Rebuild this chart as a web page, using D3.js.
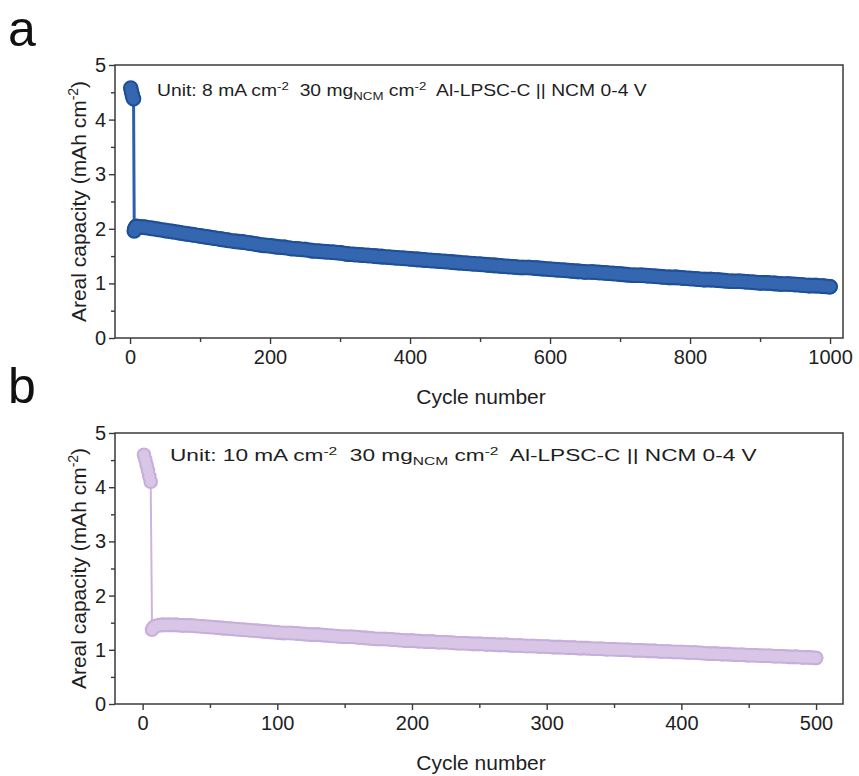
<!DOCTYPE html>
<html>
<head>
<meta charset="utf-8">
<script src="https://cdn.jsdelivr.net/npm/d3@7"></script>
<style>
  html, body { margin: 0; padding: 0; background: #fff; }
  svg { display: block; font-family: "Liberation Sans", Arial, sans-serif; }
  text { white-space: pre; }
</style>
</head>
<body>
<svg id="chart" width="859" height="776"></svg>
<script>
// ---- Panel a: 8 mA cm-2, 1000 cycles ----
const cyclesA = [1, 2, 3, 4, 5, 6, 7, 8, 9].concat(d3.range(10, 1001, 10));
const capacityA = [
  4.58, 4.52, 4.46, 4.41, 4.38, 1.96, 2.00, 2.03, 2.04,
  2.04, 2.03, 2.01, 1.99, 1.97, 1.95, 1.93, 1.91, 1.89, 1.87,
  1.85, 1.83, 1.81, 1.79, 1.77, 1.76, 1.74, 1.72, 1.70, 1.69,
  1.67, 1.66, 1.64, 1.63, 1.62, 1.60, 1.59, 1.58, 1.57, 1.56,
  1.54, 1.53, 1.52, 1.51, 1.50, 1.49, 1.48, 1.47, 1.46, 1.45,
  1.44, 1.43, 1.42, 1.41, 1.40, 1.39, 1.38, 1.37, 1.36, 1.35,
  1.34, 1.33, 1.32, 1.31, 1.30, 1.29, 1.29, 1.28, 1.27, 1.26,
  1.25, 1.24, 1.23, 1.22, 1.21, 1.21, 1.20, 1.19, 1.18, 1.17,
  1.16, 1.15, 1.15, 1.14, 1.13, 1.12, 1.11, 1.11, 1.10, 1.09,
  1.08, 1.07, 1.07, 1.06, 1.05, 1.04, 1.04, 1.03, 1.02, 1.01,
  1.01, 1.00, 0.99, 0.99, 0.98, 0.97, 0.96, 0.96, 0.95, 0.94
];
const xTicksA = [0, 200, 400, 600, 800, 1000];

// ---- Panel b: 10 mA cm-2, 500 cycles ----
const cyclesB = [1, 2, 3, 4, 5, 6, 7, 8, 9].concat(d3.range(10, 501, 5));
const capacityB = [
  4.60, 4.51, 4.41, 4.31, 4.20, 4.10, 1.37, 1.41, 1.43,
  1.44, 1.46, 1.46, 1.46, 1.45, 1.45, 1.44, 1.43, 1.42, 1.41, 1.40, 1.39, 1.38, 1.37, 1.36, 1.35, 1.34, 1.33, 1.32,
  1.31, 1.31, 1.30, 1.29, 1.28, 1.28, 1.27, 1.26, 1.25, 1.24,
  1.24, 1.23, 1.22, 1.21, 1.20, 1.20, 1.19, 1.18, 1.17, 1.17,
  1.16, 1.15, 1.15, 1.14, 1.14, 1.13, 1.12, 1.12, 1.11, 1.11,
  1.10, 1.10, 1.09, 1.09, 1.08, 1.08, 1.07, 1.07, 1.06, 1.06,
  1.05, 1.05, 1.04, 1.04, 1.03, 1.03, 1.02, 1.02, 1.01, 1.01,
  1.00, 1.00, 0.99, 0.99, 0.98, 0.98, 0.97, 0.97, 0.96, 0.96,
  0.95, 0.95, 0.94, 0.93, 0.93, 0.92, 0.92, 0.91, 0.91, 0.90,
  0.90, 0.89, 0.89, 0.88, 0.88, 0.87, 0.87, 0.86, 0.86, 0.85
];
const xTicksB = [0, 100, 200, 300, 400, 500];

const yTicks = [0, 1, 2, 3, 4, 5];

const svg = d3.select("#chart");
const axisColor = "#3a3a3a";
const textColor = "#1e1e1e";
const intFmt = d3.format("d");

function drawPanel(opt) {
  const x = d3.scaleLinear().domain(opt.xDomain).range([opt.left, opt.right]);
  const y = d3.scaleLinear().domain([0, 5]).range([opt.bottom, opt.top]);
  const g = svg.append("g");

  // frame
  g.append("rect")
    .attr("x", opt.left).attr("y", opt.top)
    .attr("width", opt.right - opt.left).attr("height", opt.bottom - opt.top)
    .attr("fill", "none").attr("stroke", axisColor).attr("stroke-width", 1.5);

  // minor ticks
  const yMinor = d3.range(0.5, 5, 1);
  const xAxisMinor = d3.axisBottom(x).tickValues(opt.xMinor).tickSize(4).tickFormat("");
  const yAxisMinor = d3.axisLeft(y).tickValues(yMinor).tickSize(4).tickFormat("");
  g.append("g").attr("transform", `translate(0,${opt.bottom})`).call(xAxisMinor)
    .call(s => s.select(".domain").remove());
  g.append("g").attr("transform", `translate(${opt.left},0)`).call(yAxisMinor)
    .call(s => s.select(".domain").remove());

  // major axes
  const xAxis = d3.axisBottom(x).tickValues(opt.xTicks).tickFormat(intFmt).tickSize(6).tickPadding(6);
  const yAxis = d3.axisLeft(y).tickValues(yTicks).tickFormat(intFmt).tickSize(6).tickPadding(3);
  const gx = g.append("g").attr("transform", `translate(0,${opt.bottom})`).call(xAxis);
  const gy = g.append("g").attr("transform", `translate(${opt.left},0)`).call(yAxis);
  [gx, gy].forEach(s => {
    s.select(".domain").remove();
    s.selectAll("text").attr("font-size", 20).attr("fill", textColor)
      .attr("font-family", "Liberation Sans, Arial, sans-serif");
  });
  g.selectAll(".tick line").attr("stroke", axisColor).attr("stroke-width", 1.4);

  // axis titles
  g.append("text")
    .attr("x", (opt.left + opt.right) / 2 + 2).attr("y", opt.bottom + 66)
    .attr("text-anchor", "middle").attr("font-size", 21).attr("fill", textColor)
    .text("Cycle number");

  const yl = g.append("text")
    .attr("transform", `translate(86,${(opt.top + opt.bottom) / 2}) rotate(-90)`)
    .attr("text-anchor", "middle").attr("font-size", 21).attr("fill", textColor);
  yl.append("tspan").text("Areal capacity (mAh cm");
  yl.append("tspan").attr("font-size", 14).attr("dy", -8).text("-2");
  yl.append("tspan").attr("dy", 8).text(")");

  // series: thin connecting line, then markers (outline pass + fill pass);
  // the long run of overlapping markers is backed by a wide stroke so its edge stays smooth
  const pts = opt.cycles.map((c, i) => [x(c), y(opt.values[i])]);
  const band = pts.slice(opt.bandStart);
  const line = d3.line().curve(d3.curveMonotoneX);
  g.append("path")
    .attr("d", d3.line()(pts))
    .attr("fill", "none").attr("stroke", opt.lineColor).attr("stroke-width", opt.lineWidth);
  g.append("path").attr("d", line(band))
    .attr("fill", "none").attr("stroke", opt.edge)
    .attr("stroke-width", 2 * opt.r + 1.6).attr("stroke-linecap", "round").attr("stroke-linejoin", "round");
  g.append("g").selectAll("circle").data(pts).join("circle")
    .attr("cx", d => d[0]).attr("cy", d => d[1]).attr("r", opt.r)
    .attr("fill", opt.edge).attr("stroke", opt.edge).attr("stroke-width", 1.6);
  g.append("path").attr("d", line(band))
    .attr("fill", "none").attr("stroke", opt.fill)
    .attr("stroke-width", 2 * (opt.r - 1.3)).attr("stroke-linecap", "round").attr("stroke-linejoin", "round");
  g.append("g").selectAll("circle").data(pts).join("circle")
    .attr("cx", d => d[0]).attr("cy", d => d[1]).attr("r", opt.r - 1.3)
    .attr("fill", opt.fill);

  // annotation
  const ann = g.append("text")
    .attr("font-size", 16).attr("fill", textColor);
  ann.append("tspan").text(`Unit: ${opt.current} mA cm`);
  ann.append("tspan").attr("font-size", 11).attr("dy", -6).text("-2");
  ann.append("tspan").attr("dy", 6).text("  30 mg");
  ann.append("tspan").attr("font-size", 11).attr("dy", 4).text("NCM");
  ann.append("tspan").attr("dy", -4).text(" cm");
  ann.append("tspan").attr("font-size", 11).attr("dy", -6).text("-2");
  ann.append("tspan").attr("dy", 6).text("  Al-LPSC-C || NCM 0-4 V");
  const w = ann.node().getComputedTextLength();
  const sx = opt.annWidth / w;
  ann.attr("transform", `translate(${opt.annX},${opt.annY}) scale(${sx},1)`);

  // panel letter
  svg.append("text").attr("x", 8).attr("y", opt.letterY)
    .attr("font-size", 50).attr("fill", "#111").text(opt.letter);
}

drawPanel({
  letter: "a", letterY: 46,
  left: 115, right: 843, top: 65, bottom: 338,
  xDomain: [-21.5, 1018.5], xTicks: xTicksA, xMinor: [100, 300, 500, 700, 900],
  cycles: cyclesA, values: capacityA, bandStart: 6,
  fill: "#3566b0", edge: "#1f4f98", lineColor: "#2d5fae", lineWidth: 3, r: 7,
  current: 8, annX: 157, annY: 96, annWidth: 490
});

drawPanel({
  letter: "b", letterY: 403,
  left: 115, right: 843, top: 433, bottom: 704,
  xDomain: [-20.5, 520], xTicks: xTicksB, xMinor: [50, 150, 250, 350, 450],
  cycles: cyclesB, values: capacityB, bandStart: 7,
  fill: "#d9c6e6", edge: "#c6afda", lineColor: "#cbb5dd", lineWidth: 2, r: 6.5,
  current: 10, annX: 170, annY: 461, annWidth: 587
});
</script>
</body>
</html>
